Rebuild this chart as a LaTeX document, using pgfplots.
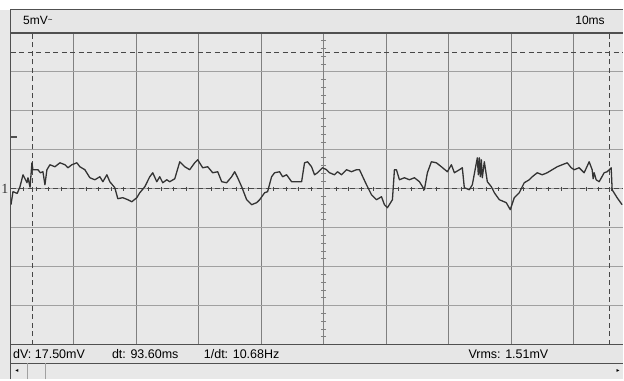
\documentclass[border=0pt]{standalone}
\usepackage{pgfplots}
\pgfplotsset{compat=1.18}
\usepackage{fontspec}
\setmainfont{Liberation Sans}
\newfontfamily\seriffont{Liberation Serif}
\newfontfamily\symfont{DejaVu Sans}

\definecolor{screen}{HTML}{E8E8E8}
\definecolor{panel}{HTML}{E6E6E6}
\definecolor{frameline}{HTML}{505050}
\definecolor{gridv}{HTML}{808080}
\definecolor{gridh}{HTML}{A0A0A0}
\definecolor{trace}{HTML}{333333}
\definecolor{cursor}{HTML}{474747}
\definecolor{label}{HTML}{505050}

% Channel 1 record: time in ms, amplitude in mV
\pgfplotstableread{
t v
0.00 -2.05
0.32 -0.38
1.00 -0.60
1.44 0.26
1.92 1.79
2.56 0.77
2.72 1.41
3.05 0.20
3.35 3.33
3.51 2.44
4.31 2.44
4.70 2.05
5.11 2.18
5.43 0.51
5.75 2.44
6.23 3.08
7.03 2.82
7.83 3.33
8.63 3.08
9.11 2.69
9.74 3.08
10.54 3.33
11.02 2.82
11.82 2.44
12.62 1.41
13.42 1.15
14.22 1.54
14.70 0.90
15.34 1.79
15.81 0.90
16.61 0.13
17.09 -1.28
17.89 -1.15
18.69 -1.41
19.33 -1.67
20.13 -1.15
20.61 -0.51
21.41 0.26
22.20 1.54
22.68 2.05
23.32 0.90
23.80 1.54
24.28 0.77
24.92 1.15
25.40 0.90
26.20 1.28
27.00 3.46
27.80 2.82
28.59 2.44
29.39 3.33
29.87 3.72
30.67 2.69
31.47 2.82
32.27 2.05
33.07 2.18
33.71 0.90
34.50 0.77
35.30 1.54
35.78 2.18
36.26 1.41
36.90 0.26
37.70 -1.41
38.50 -2.05
39.30 -1.79
39.78 -1.41
40.58 -0.51
41.05 -0.38
41.69 1.54
42.17 2.05
42.97 2.18
43.45 1.54
44.09 1.79
44.89 0.90
45.69 0.90
46.49 0.90
46.96 3.33
47.44 3.46
48.08 2.82
48.56 1.79
49.04 2.05
49.84 2.69
50.48 2.44
50.96 2.05
51.76 1.79
52.24 2.18
52.88 1.79
53.67 2.44
54.47 2.18
55.27 2.44
55.75 2.44
56.87 0.51
57.67 -0.77
58.47 -1.41
59.27 -1.03
59.74 -2.05
60.22 -2.44
61.02 -1.41
61.34 2.44
61.66 2.44
62.14 1.15
62.94 1.41
63.74 1.15
64.54 1.41
65.34 0.90
66.13 -0.13
66.61 2.05
67.25 3.46
68.05 3.33
68.85 2.82
69.81 2.18
70.45 3.08
70.93 2.05
71.73 2.44
72.20 2.69
72.52 0.13
73.32 -0.13
73.80 0.51
74.60 3.97
74.76 1.79
74.92 3.97
75.08 1.54
75.24 3.72
75.40 1.41
75.72 3.46
76.20 0.90
76.84 0.26
77.32 -0.51
78.12 -1.41
79.23 -1.79
79.87 -2.69
80.51 -1.15
81.31 -0.51
82.11 0.77
82.91 1.15
83.39 1.54
84.19 2.05
84.98 1.79
85.78 2.05
86.58 2.44
87.38 2.82
88.18 3.08
88.98 3.33
89.62 2.69
90.10 2.44
90.89 2.69
91.69 2.05
92.49 3.46
92.97 2.44
93.13 1.28
93.29 2.05
93.61 1.15
94.09 0.90
94.89 2.05
95.37 2.18
96.01 2.69
96.17 -0.13
96.96 -1.15
97.76 -2.05
}\chone

% fine divisions on the centre graticule (mV) and on the reference line (ms)
\pgfplotstableread{
t v
50 -19
50 -18
50 -17
50 -16
50 -14
50 -13
50 -12
50 -11
50 -9
50 -8
50 -7
50 -6
50 -4
50 -3
50 -2
50 -1
50 1
50 2
50 3
50 4
50 6
50 7
50 8
50 9
50 11
50 12
50 13
50 14
50 16
50 17
50 18
50 19
}\vdiv
\pgfplotstableread{
t v
2 0
4 0
6 0
8 0
12 0
14 0
16 0
18 0
22 0
24 0
26 0
28 0
32 0
34 0
36 0
38 0
42 0
44 0
46 0
48 0
52 0
54 0
56 0
58 0
62 0
64 0
66 0
68 0
72 0
74 0
76 0
78 0
82 0
84 0
86 0
88 0
92 0
94 0
96 0
}\hdiv

\begin{document}
\begin{tikzpicture}[x=1pt,y=1pt]
% window background
\fill[white] (0,0) rectangle (624,380);
\fill[screen] (0,0) rectangle (624,370);
\fill[panel] (11,347) rectangle (624,370);
\fill[panel] (11,16) rectangle (624,35);

\begin{axis}[
  at={(11pt,35pt)}, anchor=south west,
  width=613pt, height=312pt, scale only axis,
  xmin=0, xmax=97.92, ymin=-20, ymax=20,
  axis line style={draw=none},
  xtick={10,20,...,90}, ytick={-15,-10,...,15},
  xticklabels={}, yticklabels={},
  major tick length=0pt,
  xmajorgrids, ymajorgrids,
  x grid style={gridv, line width=1pt},
  y grid style={gridh, line width=1pt},
  axis background/.style={fill=screen},
  clip=true,
]
% centre graticule with fine divisions
\addplot[gridv, line width=1pt] coordinates {(50,-20) (50,20)};
\addplot[gridv, only marks, mark=-, mark size=2.5pt, mark options={line width=0.8pt}] table[x=t, y=v] {\vdiv};
% channel 1 reference level
\addplot[cursor, line width=1.4pt, dash pattern=on 5pt off 3.5pt] coordinates {(0,0) (97.92,0)};
\addplot[cursor, only marks, mark=|, mark size=2pt, mark options={line width=0.7pt}] table[x=t, y=v] {\hdiv};
% measurement cursors
\addplot[cursor, line width=1.4pt, dash pattern=on 5pt off 3.5pt] coordinates {(0,17.5) (97.92,17.5)};
\addplot[cursor, line width=1.4pt, dash pattern=on 5pt off 3.5pt] coordinates {(3.4,-20) (3.4,20)};
\addplot[cursor, line width=1.4pt, dash pattern=on 5pt off 3.5pt] coordinates {(95.77,-20) (95.77,20)};
% signal
\addplot[trace, line width=1.3pt, line join=round] table[x=t, y=v] {\chone};
\end{axis}

% frame lines
\draw[frameline, line width=1.2pt] (10.5,0) -- (10.5,370);
\draw[frameline, line width=1pt] (10.5,370) -- (624,370);
\draw[frameline, line width=1.6pt] (10.5,347) -- (624,347);
\draw[frameline, line width=1.8pt] (10.5,35) -- (624,35);
\draw[frameline, line width=1.6pt] (10.5,16) -- (624,16);
% scroll bar
\draw[gridh, line width=0.8pt] (27,0) -- (27,16);
\draw[gridh, line width=0.8pt] (45,0) -- (45,16);
\node[label, font=\symfont\fontsize{6}{6}\selectfont] at (17,8) {◂};
\node[label, font=\symfont\fontsize{6}{6}\selectfont] at (619,8) {▸};

% channel markers at the left edge
\node[black!80, font=\seriffont\fontsize{14}{14}\selectfont, anchor=base, inner sep=0pt] at (5,186) {1};
\draw[frameline, line width=1.5pt] (10.5,243) -- (17,243);

% header and status texts
\node[label, anchor=base west, font=\fontsize{12}{12}\selectfont, inner sep=0pt] at (23,355) {5mV\raisebox{2.5pt}{\fontsize{8}{8}\selectfont\textasciitilde}};
\node[label, anchor=base west, font=\fontsize{12}{12}\selectfont, inner sep=0pt] at (576,355) {10ms};
\node[label, anchor=base west, font=\fontsize{12.5}{12.5}\selectfont, inner sep=0pt] at (13,21) {dV: 17.50mV};
\node[label, anchor=base west, font=\fontsize{12.5}{12.5}\selectfont, inner sep=0pt] at (112,21) {dt: 93.60ms};
\node[label, anchor=base west, font=\fontsize{12.5}{12.5}\selectfont, inner sep=0pt] at (204,21) {1/dt: 10.68Hz};
\node[label, anchor=base west, font=\fontsize{12.5}{12.5}\selectfont, inner sep=0pt] at (469,21) {Vrms: 1.51mV};
\path[use as bounding box] (0,0) rectangle (624,380);
\end{tikzpicture}
\end{document}
